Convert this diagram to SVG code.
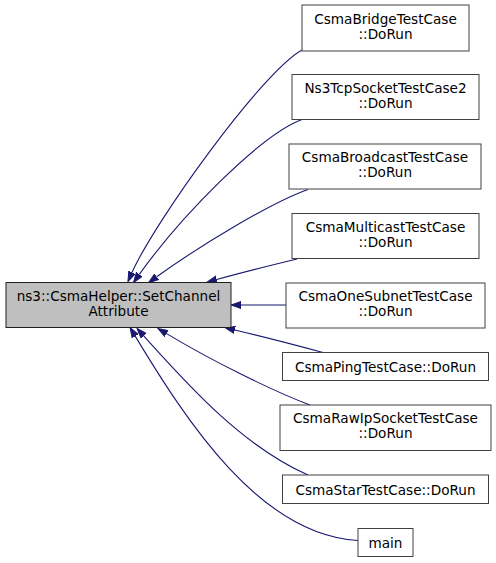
<svg xmlns="http://www.w3.org/2000/svg" width="496" height="563" viewBox="0 0 496 563">
<defs>
<style>
.node rect{fill:#ffffff;stroke:#404040;stroke-width:1}
.node.main rect{fill:#bfbfbf;stroke:#202020}
.node text{font-family:"DejaVu Sans","Liberation Sans",sans-serif;font-size:13.6px;fill:#000000;text-anchor:middle}
.edges path{fill:none;stroke:#191970;stroke-width:1.1}
</style>
<marker id="arr" markerUnits="userSpaceOnUse" markerWidth="12" markerHeight="9" refX="0" refY="4" orient="auto">
<path d="M0,0.5 L10,4 L0,7.5 z" fill="#191970" stroke="#191970" stroke-width="1"/>
</marker>
</defs>
<rect width="496" height="563" fill="#ffffff"/>
<g class="edges">
<path marker-end="url(#arr)" d="M302,50 C262,72 154.3,222.2 132,272.5"/>
<path marker-end="url(#arr)" d="M302,119.5 C260,135 180,217.6 139.3,274.4"/>
<path marker-end="url(#arr)" d="M308,189.5 C270,203 198,247 156.7,276.8"/>
<path marker-end="url(#arr)" d="M297,259 C272,265 240,273 216.7,279.5"/>
<path marker-end="url(#arr)" d="M286,305 L241,305"/>
<path marker-end="url(#arr)" d="M323,352.5 C295,345 260,336 234.7,330"/>
<path marker-end="url(#arr)" d="M310,405 C275,392 213.7,361.9 166.6,333.6"/>
<path marker-end="url(#arr)" d="M308,475 C240,445 183.9,380.3 143.7,335.9"/>
<path marker-end="url(#arr)" d="M358,540.5 C260,535 186.9,421.7 135.2,336.1"/>
</g>
<g id="node-setchannel" class="node main">
<rect x="6" y="282.5" width="225" height="45"/>
<text x="118.5" y="300.5">ns3::CsmaHelper::SetChannel</text>
<text x="118.5" y="315.5">Attribute</text>
</g>
<g id="node-bridge" class="node">
<rect x="302" y="5" width="167" height="46"/>
<text x="385.5" y="23.5">CsmaBridgeTestCase</text>
<text x="385.5" y="38.5">::DoRun</text>
</g>
<g id="node-ns3tcp" class="node">
<rect x="292" y="74.5" width="187" height="45"/>
<text x="385.5" y="92.5">Ns3TcpSocketTestCase2</text>
<text x="385.5" y="107.5">::DoRun</text>
</g>
<g id="node-broadcast" class="node">
<rect x="289" y="144" width="192" height="45"/>
<text x="385" y="162">CsmaBroadcastTestCase</text>
<text x="385" y="177">::DoRun</text>
</g>
<g id="node-multicast" class="node">
<rect x="292" y="213.5" width="187" height="45"/>
<text x="385.5" y="231.5">CsmaMulticastTestCase</text>
<text x="385.5" y="246.5">::DoRun</text>
</g>
<g id="node-onesubnet" class="node">
<rect x="286" y="283" width="199" height="45"/>
<text x="385.5" y="301">CsmaOneSubnetTestCase</text>
<text x="385.5" y="316">::DoRun</text>
</g>
<g id="node-ping" class="node">
<rect x="282.5" y="352.5" width="206" height="28"/>
<text x="385.5" y="372">CsmaPingTestCase::DoRun</text>
</g>
<g id="node-rawip" class="node">
<rect x="280" y="405" width="211" height="45.5"/>
<text x="385.5" y="423.2">CsmaRawIpSocketTestCase</text>
<text x="385.5" y="438.2">::DoRun</text>
</g>
<g id="node-star" class="node">
<rect x="282.5" y="475" width="206" height="28.5"/>
<text x="385.5" y="494.7">CsmaStarTestCase::DoRun</text>
</g>
<g id="node-main" class="node">
<rect x="358" y="528.5" width="55" height="28"/>
<text x="385.5" y="548">main</text>
</g>
</svg>
